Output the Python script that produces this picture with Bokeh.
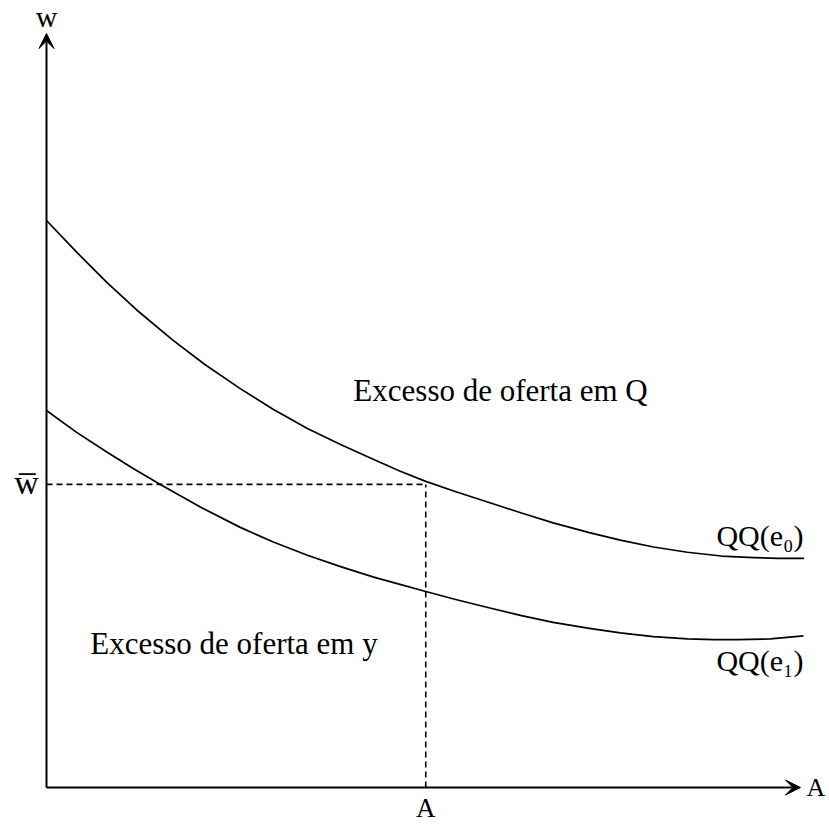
from bokeh.plotting import figure
from bokeh.models import Arrow, VeeHead, Range1d
from bokeh.core.properties import value
from bokeh.embed import file_html
from bokeh.resources import INLINE

# Curve QQ(e0) (upper): A on x, w on y (axes 0..10)
qq0_x = [0.0, 0.4, 0.8, 1.2, 1.68, 2.1, 2.57, 3.0, 3.46, 3.9, 4.34, 4.7, 5.03, 5.44, 5.84,
         6.3, 6.72, 7.2, 7.61, 8.05, 8.5, 8.95, 9.38, 9.7, 10.05]
qq0_y = [7.52, 7.10, 6.70, 6.33, 5.93, 5.61, 5.29, 5.02, 4.76, 4.55, 4.35, 4.19, 4.06, 3.92, 3.79,
         3.64, 3.51, 3.38, 3.28, 3.19, 3.12, 3.07, 3.05, 3.04, 3.04]
# Curve QQ(e1) (lower)
qq1_x = [0.0, 0.4, 0.8, 1.15, 1.51, 2.04, 2.57, 3.0, 3.46, 3.9, 4.34, 4.7, 5.03, 5.44, 5.84,
         6.3, 6.72, 7.2, 7.61, 8.05, 8.5, 8.85, 9.16, 9.6, 10.04]
qq1_y = [5.00, 4.71, 4.45, 4.23, 4.02, 3.72, 3.45, 3.26, 3.08, 2.93, 2.79, 2.69, 2.60, 2.49, 2.39,
         2.28, 2.19, 2.11, 2.05, 2.00, 1.97, 1.96, 1.96, 1.97, 2.01]

w_bar = 4.02
A_val = 5.03
axis_x_end = 10.0
axis_y_end = 10.0

FONT = value("Liberation Serif")

p = figure(width=829, height=825,
           x_range=Range1d(-0.610, 10.385), y_range=Range1d(-0.504, 10.438),
           output_backend="svg", toolbar_location=None, min_border=0)
p.axis.visible = False
p.grid.visible = False
p.outline_line_color = None
p.background_fill_color = "white"

# axes with arrows
p.add_layout(Arrow(end=VeeHead(size=15, fill_color="black", line_color="black", line_width=1),
                   x_start=0, y_start=0, x_end=axis_x_end, y_end=0,
                   line_width=2, line_color="black"))
p.add_layout(Arrow(end=VeeHead(size=15, fill_color="black", line_color="black", line_width=1),
                   x_start=0, y_start=0, x_end=0, y_end=axis_y_end,
                   line_width=2, line_color="black"))

# dashed reference lines
p.line([0, A_val], [w_bar, w_bar], line_color="black", line_width=1.6, line_dash="6 4")
p.line([A_val, A_val], [0, w_bar], line_color="black", line_width=1.6, line_dash="6 4")

# curves
p.line(qq0_x, qq0_y, line_color="black", line_width=1.7, line_join="round")
p.line(qq1_x, qq1_y, line_color="black", line_width=1.7, line_join="round")

# texts
p.text(x=[4.07], y=[5.27], text=["Excesso de oferta em Q"], text_font=FONT,
       text_font_size="31px", text_align="left", text_baseline="alphabetic", text_color="black")
p.text(x=[0.58], y=[1.91], text=["Excesso de oferta em y"], text_font=FONT,
       text_font_size="31px", text_align="left", text_baseline="alphabetic", text_color="black")
p.text(x=[10.04], y=[3.34], text=["QQ(e\u2080)"], text_font=FONT,
       text_font_size="30px", text_align="right", text_baseline="alphabetic", text_color="black")
p.text(x=[10.04], y=[1.68], text=["QQ(e\u2081)"], text_font=FONT,
       text_font_size="30px", text_align="right", text_baseline="alphabetic", text_color="black")
p.text(x=[0.0], y=[10.23], text=["w"], text_font=FONT,
       text_font_size="30px", text_align="center", text_baseline="alphabetic", text_color="black")
p.text(x=[-0.265], y=[4.05], text=["w\u0305"], text_font=FONT,
       text_font_size="34px", text_align="center", text_baseline="alphabetic", text_color="black")
p.text(x=[10.08], y=[0.0], text=["A"], text_font=FONT,
       text_font_size="26px", text_align="left", text_baseline="alphabetic", text_color="black")
p.text(x=[A_val], y=[-0.27], text=["A"], text_font=FONT,
       text_font_size="27px", text_align="center", text_baseline="alphabetic", text_color="black")

open("out.html", "w").write(file_html(p, INLINE))
